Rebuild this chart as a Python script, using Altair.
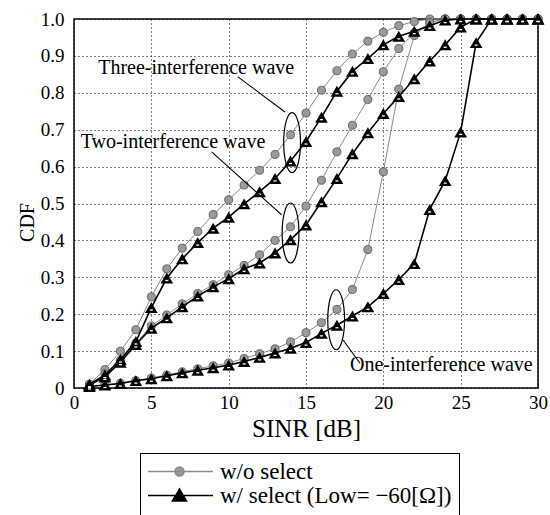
import altair as alt
import pandas as pd

# ---------------- data ----------------
sinr_db = list(range(1, 31))

three_wo = [0.010, 0.050, 0.100, 0.158, 0.247, 0.323, 0.379, 0.424, 0.470, 0.510,
            0.550, 0.590, 0.633, 0.686, 0.745, 0.807, 0.860, 0.905, 0.940, 0.964,
            0.982, 0.993, 1.0, 1.0, 1.0, 1.0, 1.0, 1.0, 1.0, 1.0]
three_w = [0.010, 0.035, 0.077, 0.126, 0.218, 0.298, 0.350, 0.394, 0.433, 0.463,
           0.499, 0.532, 0.568, 0.615, 0.668, 0.734, 0.804, 0.858, 0.893, 0.930,
           0.953, 0.967, 0.982, 0.997, 1.0, 1.0, 1.0, 1.0, 1.0, 1.0]
two_wo = [0.010, 0.038, 0.075, 0.122, 0.168, 0.198, 0.228, 0.256, 0.280, 0.307,
          0.332, 0.361, 0.400, 0.437, 0.493, 0.563, 0.640, 0.712, 0.782, 0.857,
          0.920, 0.962, 0.990, 1.0, 1.0, 1.0, 1.0, 1.0, 1.0, 1.0]
two_w = [0.008, 0.030, 0.070, 0.118, 0.162, 0.190, 0.220, 0.249, 0.274, 0.296,
         0.323, 0.339, 0.366, 0.402, 0.442, 0.505, 0.568, 0.635, 0.692, 0.744,
         0.790, 0.838, 0.886, 0.930, 0.978, 1.0, 1.0, 1.0, 1.0, 1.0]
one_wo = [0.004, 0.008, 0.013, 0.020, 0.027, 0.035, 0.044, 0.052, 0.060, 0.068,
          0.080, 0.093, 0.106, 0.125, 0.150, 0.177, 0.213, 0.267, 0.375, 0.586,
          0.810, 0.955, 0.990, 1.0, 1.0, 1.0, 1.0, 1.0, 1.0, 1.0]
one_w = [0.004, 0.008, 0.012, 0.020, 0.025, 0.033, 0.041, 0.048, 0.055, 0.062,
         0.072, 0.083, 0.095, 0.108, 0.123, 0.148, 0.170, 0.195, 0.220, 0.256,
         0.294, 0.337, 0.484, 0.562, 0.694, 0.936, 1.0, 1.0, 1.0, 1.0]

legend_labels = ["w/o select", "w/ select (Low= \u221260[\u03a9])"]

ann_text = ["Three-interference wave", "Two-interference wave", "One-interference wave"]
ann_x = [7.9, 6.4, 23.75]
ann_y = [0.867, 0.667, 0.062]

lead_x1 = [10.6, 8.9, 17.4]
lead_y1 = [0.843, 0.640, 0.130]
lead_x2 = [13.64, 13.43, 18.49]
lead_y2 = [0.748, 0.469, 0.067]

ell_x = [14.1, 14.0, 16.95]
ell_y = [0.665, 0.420, 0.185]

# ---------------- tables ----------------
series = [
    ("three", "wo", three_wo), ("three", "w", three_w),
    ("two", "wo", two_wo), ("two", "w", two_w),
    ("one", "wo", one_wo), ("one", "w", one_w),
]
rows = []
for case, sel, vals in series:
    for x, v in zip(sinr_db, vals):
        rows.append({"sinr": x, "cdf": v, "case": case, "sel": sel})
df = pd.DataFrame(rows)

ann_df = pd.DataFrame({"sinr": ann_x, "cdf": ann_y, "txt": ann_text})
lead_df = pd.DataFrame({"sinr": lead_x1, "cdf": lead_y1, "sinr2": lead_x2, "cdf2": lead_y2})
ell_df = pd.DataFrame({"sinr": ell_x, "cdf": ell_y})
leg_df = pd.DataFrame({"label": legend_labels})

FONT = "Liberation Serif"
xs = alt.Scale(domain=[0, 30], nice=False)
ys = alt.Scale(domain=[0, 1], nice=False)

x_axis = alt.Axis(values=[0, 5, 10, 15, 20, 25, 30], title="SINR [dB]", labelFlush=False,
                  labelPadding=5, titlePadding=4, titleFontSize=25)
y_axis = alt.Axis(values=[0, 0.1, 0.2, 0.3, 0.4, 0.5, 0.6, 0.7, 0.8, 0.9, 1.0], title="CDF",
                  labelExpr="datum.value == 0 ? '0' : format(datum.value, '.1f')",
                  labelPadding=10, titlePadding=3, titleFontSize=20, titleY=203)

X = alt.X("sinr:Q", scale=xs, axis=x_axis)
Y = alt.Y("cdf:Q", scale=ys, axis=y_axis)

base = alt.Chart(df)

lines_wo = base.transform_filter("datum.sel == 'wo'").mark_line(
    color="#8a8a8a", strokeWidth=1).encode(x=X, y=Y, detail="case:N")
pts_wo = base.transform_filter("datum.sel == 'wo'").mark_point(
    shape="circle", filled=True, size=65, fill="#9a9a9a", stroke="#505050",
    strokeWidth=0.8, opacity=1).encode(x=X, y=Y)
lines_w = base.transform_filter("datum.sel == 'w'").mark_line(
    color="black", strokeWidth=1.6).encode(x=X, y=Y, detail="case:N")
pts_w = base.transform_filter("datum.sel == 'w'").mark_point(
    shape="triangle-up", filled=True, size=160, color="black", opacity=1).encode(x=X, y=Y)
pts_w_dot = base.transform_filter("datum.sel == 'w'").mark_point(
    shape="M-1,0L1,0", filled=False, size=9, color="white", strokeWidth=1.3,
    opacity=1, yOffset=2.5).encode(x=X, y=Y)

ell_path = ("M0,-1C0.1546,-1,0.28,-0.5523,0.28,0C0.28,0.5523,0.1546,1,0,1"
            "C-0.1546,1,-0.28,0.5523,-0.28,0C-0.28,-0.5523,-0.1546,-1,0,-1Z")
ellipses = alt.Chart(ell_df).mark_point(
    shape=ell_path, size=3600, filled=False, color="black", strokeWidth=1.2,
    opacity=1).encode(x=X, y=Y)

leaders = alt.Chart(lead_df).mark_rule(color="black", strokeWidth=1.1).encode(
    x=X, y=Y, x2="sinr2:Q", y2="cdf2:Q")

labels = alt.Chart(ann_df).mark_text(
    font=FONT, fontSize=20, color="black", align="center", baseline="middle").encode(
    x=X, y=Y, text="txt:N")

# legend: custom symbols = line sample with marker
wo_sym = ("M-1.05,0L5.45,0M1.65,0C1.65,-0.249,1.851,-0.45,2.1,-0.45C2.349,-0.45,2.55,-0.249,2.55,0"
          "C2.55,0.249,2.349,0.45,2.1,0.45C1.851,0.45,1.65,0.249,1.65,0Z")
w_sym = "M-1.05,0L5.45,0M1.4,0.55L2.1,-0.65L2.8,0.55Z"

leg = alt.Legend(title=None, orient="none", legendX=66, legendY=434, direction="vertical",
                 strokeColor="black", fillColor="white", padding=7,
                 labelFont=FONT, labelFontSize=23, labelColor="black", labelLimit=500,
                 labelOffset=50, symbolSize=400, symbolStrokeWidth=1.5, rowPadding=0,
                 symbolOpacity=1)

legend_layer = alt.Chart(leg_df).transform_filter("false").mark_point(
    filled=True, strokeWidth=1.5, size=400).encode(
    shape=alt.Shape("label:N", scale=alt.Scale(domain=legend_labels, range=[wo_sym, w_sym]), legend=leg),
    fill=alt.Fill("label:N", scale=alt.Scale(domain=legend_labels, range=["#9a9a9a", "black"]), legend=leg),
    stroke=alt.Stroke("label:N", scale=alt.Scale(domain=legend_labels, range=["#8a8a8a", "black"]), legend=leg),
)

chart = alt.layer(
    lines_wo, pts_wo, lines_w, pts_w, pts_w_dot, ellipses, leaders, labels, legend_layer
).properties(
    width=464, height=369,
    autosize=alt.AutoSizeParams(type="none"),
    padding={"left": 74, "top": 19, "right": 12, "bottom": 127},
    background="white",
).configure_view(
    stroke="black", strokeWidth=1.5
).configure_axis(
    labelFont=FONT, labelFontSize=19, labelColor="black",
    titleFont=FONT, titleFontWeight="normal", titleColor="black",
    grid=True, gridColor="black", gridDash=[1, 3], gridOpacity=1, gridWidth=1,
    domain=False, ticks=False,
)

chart.save("out.html", embed_options={"renderer": "svg", "actions": False})
